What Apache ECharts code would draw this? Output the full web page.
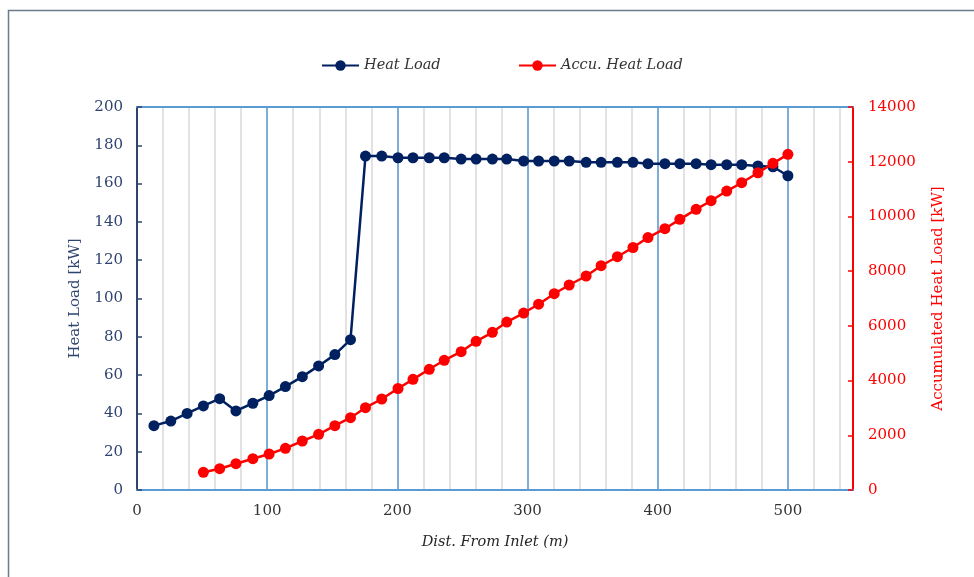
<!DOCTYPE html>
<html>
<head>
<meta charset="utf-8">
<script src="https://cdn.jsdelivr.net/npm/echarts@6/dist/echarts.min.js"></script>
<style>
  html, body { margin: 0; padding: 0; background: #ffffff; }
  #chart { width: 974px; height: 577px; }
</style>
</head>
<body>
<div id="chart"></div>
<script>
// Distance of each measuring station from the inlet (m)
const distance = [13, 26, 38.5, 51, 63.5, 76, 89, 101.5, 114, 127, 139.5, 152, 164,
  175.5, 188, 200.5, 212, 224.5, 236, 249, 260.5, 273, 284, 297, 308.5, 320.5, 332,
  345, 356.5, 369, 381, 392.5, 405.5, 417, 429.5, 441, 453, 464.5, 477, 488.5, 500];

// Heat load per segment (kW)
const heatLoad = [33.6, 36.0, 40.0, 43.9, 47.7, 41.3, 45.3, 49.3, 54.0, 59.2, 64.8, 70.7, 78.5,
  174.4, 174.4, 173.5, 173.5, 173.5, 173.5, 172.8, 172.8, 172.8, 172.8, 171.8, 171.8, 171.8, 171.8,
  171.1, 171.1, 171.1, 171.1, 170.4, 170.4, 170.4, 170.4, 169.9, 169.9, 169.9, 169.2, 168.8, 164.1];

// Accumulated heat load (kW), starting at the fourth station
const accuStart = 3;
const accuHeatLoad = [647, 779, 961, 1144, 1316, 1524, 1791, 2036, 2350, 2643,
  3008, 3326, 3710, 4046, 4412, 4741, 5055, 5435, 5764, 6140, 6469, 6791, 7175,
  7493, 7822, 8198, 8527, 8864, 9229, 9551, 9894, 10260, 10574, 10928, 11232,
  11597, 11941, 12270];

const xTicks = [0, 100, 200, 300, 400, 500];

const heatPairs = distance.map((d, i) => [d, heatLoad[i]]);
const accuPairs = accuHeatLoad.map((v, i) => [distance[i + accuStart], v]);

const serif = 'DejaVu Serif';
const navy = '#002060';
const slate = '#2f4470';
const red = '#ff0000';

const chart = echarts.init(document.getElementById('chart'), null, { renderer: 'canvas' });

chart.setOption({
  backgroundColor: '#ffffff',
  animation: false,
  graphic: [{
    type: 'rect',
    shape: { x: 8.5, y: 10.5, width: 1000, height: 1000 },
    style: { fill: 'none', stroke: '#6b7b8c', lineWidth: 1.5 },
    silent: true,
    z: -10
  }],
  legend: [{
    data: ['Heat Load'],
    left: 316,
    top: 53,
    itemWidth: 37,
    itemHeight: 13,
    itemGap: 5,
    textStyle: { fontFamily: serif, fontStyle: 'italic', fontSize: 14.5, color: '#333333' }
  }, {
    data: ['Accu. Heat Load'],
    left: 513,
    top: 53,
    itemWidth: 37,
    itemHeight: 13,
    itemGap: 5,
    textStyle: { fontFamily: serif, fontStyle: 'italic', fontSize: 14.5, color: '#333333' }
  }],
  grid: { left: 137, right: 121, top: 107, bottom: 87, containLabel: false },
  xAxis: [{
    // fine grid every 20 m; also draws the top edge of the plot
    type: 'value',
    position: 'top',
    min: 0,
    max: 550,
    interval: 20,
    axisLine: { show: true, onZero: false, lineStyle: { color: '#5b9bd5', width: 2 } },
    axisTick: { show: false },
    axisLabel: { show: false },
    splitLine: { show: true, lineStyle: { color: '#d9d9d9', width: 1.5 } }
  }, {
    type: 'value',
    position: 'bottom',
    min: 0,
    max: 550,
    interval: 100,
    name: 'Dist. From Inlet (m)',
    nameLocation: 'middle',
    nameGap: 45,
    nameTextStyle: { fontFamily: serif, fontStyle: 'italic', fontSize: 14.5, color: '#262626' },
    axisLine: { show: true, onZero: false, lineStyle: { color: '#5b9bd5', width: 2 } },
    axisTick: { show: false },
    axisLabel: {
      showMaxLabel: false,
      margin: 14,
      fontFamily: serif,
      fontSize: 15,
      color: '#333333',
      formatter: v => xTicks.includes(v) ? String(v) : ''
    },
    splitLine: { show: true, lineStyle: { color: '#5b9bd5', width: 1.5 } }
  }],
  yAxis: [{
    type: 'value',
    position: 'left',
    min: 0,
    max: 200,
    interval: 20,
    name: 'Heat Load [kW]',
    nameLocation: 'middle',
    nameGap: 54,
    nameTextStyle: { fontFamily: serif, fontSize: 15, color: slate },
    axisLine: { show: true, onZero: false, lineStyle: { color: slate, width: 2 } },
    axisTick: { show: true, inside: true, length: 5, lineStyle: { color: slate, width: 1.5 } },
    axisLabel: { margin: 14, fontFamily: serif, fontSize: 15, color: slate, formatter: v => String(v) },
    splitLine: { show: false }
  }, {
    type: 'value',
    position: 'right',
    min: 0,
    max: 14000,
    interval: 2000,
    name: 'Accumulated Heat Load [kW]',
    nameLocation: 'middle',
    nameGap: 78,
    nameTextStyle: { fontFamily: serif, fontSize: 15, color: red },
    axisLine: { show: true, onZero: false, lineStyle: { color: red, width: 2 } },
    axisTick: { show: true, inside: true, length: 5, lineStyle: { color: red, width: 1.5 } },
    axisLabel: { margin: 15, fontFamily: serif, fontSize: 15, color: red, formatter: v => String(v) },
    splitLine: { show: false }
  }],
  series: [{
    name: 'Heat Load',
    type: 'line',
    xAxisIndex: 1,
    yAxisIndex: 0,
    data: heatPairs,
    symbol: 'circle',
    symbolSize: 11,
    showAllSymbol: true,
    lineStyle: { color: navy, width: 2.5 },
    itemStyle: { color: navy },
    z: 3
  }, {
    name: 'Accu. Heat Load',
    type: 'line',
    xAxisIndex: 1,
    yAxisIndex: 1,
    data: accuPairs,
    symbol: 'circle',
    symbolSize: 11,
    showAllSymbol: true,
    lineStyle: { color: red, width: 2.5 },
    itemStyle: { color: red },
    z: 4
  }]
});
</script>
</body>
</html>
